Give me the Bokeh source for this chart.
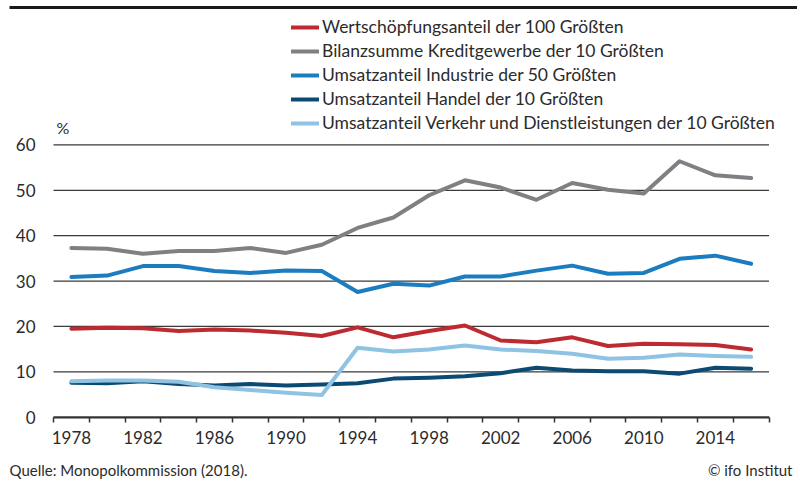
from bokeh.plotting import figure
from bokeh.models import (Range1d, FixedTicker, Legend, LegendItem, Label,
                          BoxAnnotation, ColumnDataSource, LinearAxis)
from bokeh.embed import file_html
from bokeh.resources import INLINE

years = list(range(1978, 2017, 2))
wertschoepfung_100 = [19.5, 19.7, 19.6, 19.0, 19.3, 19.1, 18.6, 17.9, 19.8, 17.6,
                      19.0, 20.2, 16.9, 16.5, 17.6, 15.7, 16.2, 16.1, 15.9, 14.9]
bilanzsumme_kredit_10 = [37.3, 37.1, 36.0, 36.6, 36.6, 37.3, 36.2, 38.0, 41.7, 44.0,
                         48.9, 52.2, 50.6, 47.9, 51.6, 50.1, 49.3, 56.4, 53.3, 52.7]
umsatz_industrie_50 = [30.9, 31.2, 33.3, 33.3, 32.2, 31.8, 32.3, 32.2, 27.6, 29.4,
                       29.0, 31.0, 31.0, 32.3, 33.4, 31.6, 31.8, 34.9, 35.6, 33.8]
umsatz_handel_10 = [7.6, 7.5, 7.9, 7.3, 7.0, 7.3, 7.0, 7.2, 7.5, 8.5,
                    8.7, 9.0, 9.7, 10.9, 10.3, 10.1, 10.1, 9.6, 10.9, 10.7]
umsatz_verkehr_10 = [7.9, 8.1, 8.1, 7.8, 6.6, 6.0, 5.4, 4.9, 15.3, 14.5,
                     14.9, 15.8, 14.9, 14.6, 14.0, 12.9, 13.1, 13.8, 13.5, 13.3]

series_names = [
    "Wertschöpfungsanteil der 100 Größten",
    "Bilanzsumme Kreditgewerbe der 10 Größten",
    "Umsatzanteil Industrie der 50 Größten",
    "Umsatzanteil Handel der 10 Größten",
    "Umsatzanteil Verkehr und Dienstleistungen der 10 Größten",
]
series_values = [wertschoepfung_100, bilanzsumme_kredit_10, umsatz_industrie_50,
                 umsatz_handel_10, umsatz_verkehr_10]
series_colors = ["#be2a31", "#7e8083", "#1c7cc0", "#0c4a73", "#8ec3e3"]

x_label_years = list(range(1978, 2015, 4))
x_bin_edges = [y - 1 for y in years] + [years[-1] + 1]
y_ticks = [0, 10, 20, 30, 40, 50, 60]

FONT = "Lato"
TXT = "#2b2b2b"
W, H = 797, 479

# Frame covers the whole canvas; ranges chosen so the data area sits at
# x = 53..768 px and y(0) = 417 px, y(60) = 144 px.
x0, x1 = x_bin_edges[0], x_bin_edges[-1]
px_per_year = (768.5 - 53.0) / (x1 - x0)
px_per_unit = (416.7 - 144.4) / 60.0
p = figure(width=W, height=H, output_backend="svg", toolbar_location=None,
           x_range=Range1d(x0 - 53.0 / px_per_year, x1 + (W - 768.5) / px_per_year),
           y_range=Range1d(-(H - 416.7) / px_per_unit, 60 + 144.4 / px_per_unit),
           x_axis_type=None, y_axis_type=None,
           min_border_left=0, min_border_right=0,
           min_border_top=0, min_border_bottom=0)
p.outline_line_color = None
p.background_fill_color = "white"
p.border_fill_color = "white"
p.xgrid.grid_line_color = None
p.ygrid.grid_line_color = None

# horizontal grid lines across the data area
p.segment(x0=[x0] * len(y_ticks), x1=[x1] * len(y_ticks), y0=y_ticks, y1=y_ticks,
          line_color="#3a3a3a", line_width=1.3)

# x axis (drawn inside the frame at y = 0)
xa = LinearAxis(fixed_location=0, bounds=(x0, x1))
xa.ticker = FixedTicker(ticks=x_label_years, minor_ticks=x_bin_edges)
xa.major_tick_out = 0
xa.major_tick_in = 0
xa.minor_tick_out = 5
xa.minor_tick_in = 0
xa.minor_tick_line_color = "#333333"
xa.minor_tick_line_width = 1.5
xa.axis_line_color = "#333333"
xa.axis_line_width = 2
xa.major_label_text_font = FONT
xa.major_label_text_font_size = "17px"
xa.major_label_text_color = TXT
xa.major_label_standoff = 9
p.add_layout(xa, "below")

# y axis (labels only, left of the data area)
ya = LinearAxis(fixed_location=x0)
ya.ticker = FixedTicker(ticks=y_ticks)
ya.axis_line_color = None
ya.major_tick_out = 0
ya.major_tick_in = 0
ya.minor_tick_line_color = None
ya.major_label_text_font = FONT
ya.major_label_text_font_size = "17px"
ya.major_label_text_color = TXT
ya.major_label_standoff = 18
p.add_layout(ya, "left")

# lines (draw order so light blue ends on top)
renderers = {}
for idx in [1, 2, 0, 3, 4]:
    src = ColumnDataSource(dict(x=years, y=series_values[idx]))
    r = p.line("x", "y", source=src, line_color=series_colors[idx], line_width=4.0,
               line_cap="round", line_join="round")
    renderers[idx] = r

row_h = 24
items = [LegendItem(label=series_names[i], renderers=[renderers[i]]) for i in range(5)]
legend = Legend(items=items, location=(291, H - 14.7 - 5 * row_h),
                orientation="vertical",
                glyph_width=28, glyph_height=row_h, label_height=row_h, spacing=0,
                padding=0, margin=0, label_standoff=3,
                label_text_font=FONT, label_text_font_size="17.5px",
                label_text_color=TXT, border_line_color=None,
                background_fill_alpha=0)
p.add_layout(legend, "center")

p.add_layout(Label(x=56, y=H - 127, x_units="screen", y_units="screen", text="%",
                   text_font=FONT, text_font_size="16px", text_color=TXT,
                   text_baseline="middle"))
p.add_layout(Label(x=9, y=H - 469, x_units="screen", y_units="screen",
                   text="Quelle: Monopolkommission (2018).",
                   text_font=FONT, text_font_size="15px", text_color=TXT,
                   text_baseline="middle"))
p.add_layout(Label(x=792, y=H - 469, x_units="screen", y_units="screen",
                   text="© ifo Institut", text_align="right",
                   text_font=FONT, text_font_size="15px", text_color=TXT,
                   text_baseline="middle"))
p.add_layout(BoxAnnotation(left=9, right=W, top=H - 5.5, bottom=H - 8.5,
                           left_units="screen", right_units="screen",
                           top_units="screen", bottom_units="screen",
                           fill_color="#1a1a1a", fill_alpha=1, line_color=None))

open("out.html", "w").write(file_html(p, INLINE))
